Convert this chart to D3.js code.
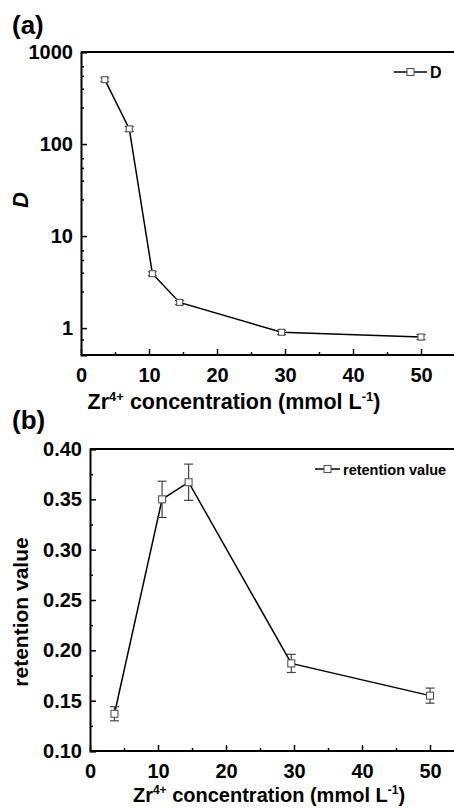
<!DOCTYPE html>
<html><head><meta charset="utf-8">
<script src="https://cdn.jsdelivr.net/npm/d3@7"></script>
<style>
html,body{margin:0;padding:0;background:#fff;}
svg{display:block;}
text{font-family:"Liberation Sans",Arial,sans-serif;font-weight:bold;fill:#000;}
</style></head>
<body>
<script>
// ---- data ----
const xTop = [3.5, 7.1, 10.5, 14.5, 29.5, 50];
const dVals = [500, 146, 3.9, 1.9, 0.90, 0.80];
const dErr = [25, 9, 0.2, 0.1, 0.05, 0.05];
const yTopTicks = [1, 10, 100, 1000];
const yTopMinor = [2.5, 4, 5.5, 7];

const xBot = [3.6, 10.6, 14.5, 29.6, 50];
const retVals = [0.137, 0.350, 0.367, 0.187, 0.155];
const retErr = [0.007, 0.018, 0.018, 0.009, 0.0075];
const yBotTicks = [0.10, 0.15, 0.20, 0.25, 0.30, 0.35, 0.40];

const xTicks = [0, 10, 20, 30, 40, 50];
const xMinor = [5, 15, 25, 35, 45];

const W = 454, H = 808;
const svg = d3.select("body").append("svg").attr("width", W).attr("height", H);

function panel(opt) {
  const g = svg.append("g");
  const x = d3.scaleLinear().domain([0, 55]).range([opt.left, opt.left + 55 * 6.8]);
  const y = opt.y;
  const top = opt.top, bottom = opt.bottom;
  const right = x(55);
  // frame
  g.append("line").attr("x1", opt.left).attr("x2", right).attr("y1", top).attr("y2", top)
    .attr("stroke", "#000").attr("stroke-width", 2);
  g.append("line").attr("x1", opt.left).attr("x2", right).attr("y1", bottom).attr("y2", bottom)
    .attr("stroke", "#000").attr("stroke-width", 2);
  g.append("line").attr("x1", right).attr("x2", right).attr("y1", top).attr("y2", bottom)
    .attr("stroke", "#000").attr("stroke-width", 2);
  // x axis
  const xa = d3.axisBottom(x).tickValues(xTicks).tickSize(-6).tickPadding(13).tickFormat(d3.format("d"));
  const xg = g.append("g").attr("transform", `translate(0,${bottom})`).call(xa);
  xg.select(".domain").remove();
  xg.selectAll(".tick line").attr("stroke-width", 1.5);
  xg.selectAll("text").attr("font-size", 20).attr("font-family", "Liberation Sans, Arial, sans-serif").attr("font-weight", "bold");
  const xm = d3.axisBottom(x).tickValues(xMinor).tickSize(-3).tickFormat("");
  const xmg = g.append("g").attr("transform", `translate(0,${bottom})`).call(xm);
  xmg.select(".domain").remove();
  xmg.selectAll(".tick line").attr("stroke-width", 1.5);
  // y axis
  const ya = d3.axisLeft(y).tickValues(opt.yTicks).tickSize(-6).tickPadding(8).tickFormat(opt.yFmt);
  const yg = g.append("g").attr("transform", `translate(${opt.left},0)`).call(ya);
  yg.select(".domain").attr("stroke-width", 2);
  yg.selectAll(".tick line").attr("stroke-width", 1.5);
  yg.selectAll("text").attr("font-size", 20).attr("font-family", "Liberation Sans, Arial, sans-serif").attr("font-weight", "bold");
  const ym = d3.axisLeft(y).tickValues(opt.yMinor).tickSize(-3).tickFormat("");
  const ymg = g.append("g").attr("transform", `translate(${opt.left},0)`).call(ym);
  ymg.select(".domain").remove();
  ymg.selectAll(".tick line").attr("stroke-width", 1.5);

  // line
  const pts = opt.xs.map((v, i) => [v, opt.vals[i], opt.errs[i]]);
  g.append("path").datum(pts)
    .attr("d", d3.line().x(d => x(d[0])).y(d => y(d[1])))
    .attr("fill", "none").attr("stroke", "#000").attr("stroke-width", 1.5);
  // error bars
  const eb = g.selectAll(".eb").data(pts).enter().append("g");
  eb.append("line").attr("x1", d => x(d[0])).attr("x2", d => x(d[0]))
    .attr("y1", d => y(d[1] + d[2])).attr("y2", d => y(d[1] - d[2]))
    .attr("stroke", "#444").attr("stroke-width", 1.2);
  [1, -1].forEach(s => {
    eb.append("line").attr("x1", d => x(d[0]) - 4.5).attr("x2", d => x(d[0]) + 4.5)
      .attr("y1", d => y(d[1] + s * d[2])).attr("y2", d => y(d[1] + s * d[2]))
      .attr("stroke", "#444").attr("stroke-width", 1.2);
  });
  // markers
  g.selectAll(".mk").data(pts).enter().append("rect")
    .attr("x", d => x(d[0]) - opt.mk / 2).attr("y", d => y(d[1]) - opt.mk / 2)
    .attr("width", opt.mk).attr("height", opt.mk)
    .attr("fill", "#fff").attr("stroke", "#555").attr("stroke-width", 1.1);
  // legend
  const lg = g.append("g");
  lg.append("line").attr("x1", opt.legX).attr("x2", opt.legX + opt.legLen).attr("y1", opt.legY).attr("y2", opt.legY)
    .attr("stroke", "#000").attr("stroke-width", 1.5);
  lg.append("rect").attr("x", opt.legX + opt.legLen / 2 - 3.5).attr("y", opt.legY - 3.5).attr("width", 7).attr("height", 7)
    .attr("fill", "#fff").attr("stroke", "#555").attr("stroke-width", 1.1);
  lg.append("text").attr("x", opt.legX + opt.legLen + 3).attr("y", opt.legY + 5.5).attr("font-size", opt.legSize).text(opt.legText);
  return {x, y};
}

panel({
  left: 81, top: 52, bottom: 355,
  y: d3.scaleLog().domain([0.51, 1000]).range([355, 52]),
  yTicks: yTopTicks,
  yMinor: [0.75].concat(...[1, 10, 100].map(b => yTopMinor.map(m => m * b))),
  yFmt: d3.format("d"),
  xs: xTop, vals: dVals, errs: dErr, mk: 6,
  legX: 394, legY: 72, legLen: 33, legText: "D", legSize: 16
});

panel({
  left: 90, top: 449, bottom: 751,
  y: d3.scaleLinear().domain([0.10, 0.40]).range([751, 449]),
  yTicks: yBotTicks,
  yMinor: [0.125, 0.175, 0.225, 0.275, 0.325, 0.375],
  yFmt: d3.format(".2f"),
  xs: xBot, vals: retVals, errs: retErr, mk: 7,
  legX: 315, legY: 469, legLen: 25, legText: "retention value", legSize: 14.5
});

// panel labels
svg.append("text").attr("x", 12).attr("y", 34).attr("font-size", 26).text("(a)");
svg.append("text").attr("x", 12).attr("y", 429).attr("font-size", 26).text("(b)");

// y labels
svg.append("text").attr("transform", "translate(28,200) rotate(-90)").attr("text-anchor", "middle")
  .attr("font-size", 22).attr("font-style", "italic").text("D");
svg.append("text").attr("transform", "translate(28,612) rotate(-90)").attr("text-anchor", "middle")
  .attr("font-size", 21).text("retention value");

// x labels
function xlabel(cx, by, fs) {
  const t = svg.append("text").attr("x", cx).attr("y", by).attr("text-anchor", "middle").attr("font-size", fs);
  const sup = Math.round(fs * 0.62), dy = Math.round(fs * 0.38);
  t.append("tspan").text("Zr");
  t.append("tspan").attr("dy", -dy).attr("font-size", sup).text("4+");
  t.append("tspan").attr("dy", dy).text(" concentration (mmol L");
  t.append("tspan").attr("dy", -dy).attr("font-size", sup).text("-1");
  t.append("tspan").attr("dy", dy).text(")");
}
xlabel(234, 409, 21.5);
xlabel(269, 802, 20);
</script>
</body></html>
